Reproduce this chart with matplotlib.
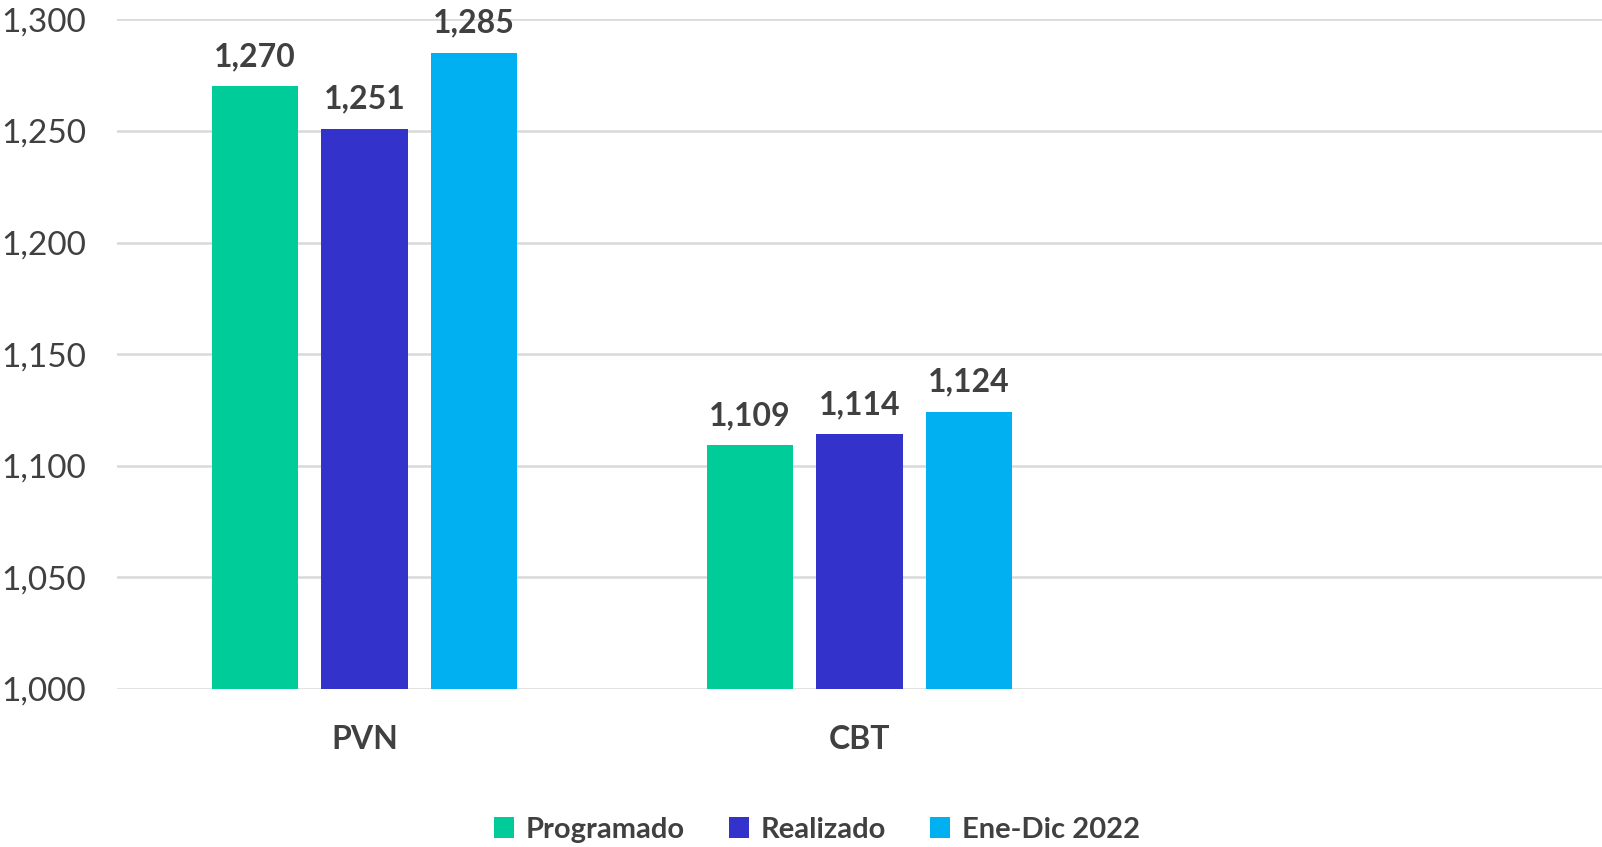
import matplotlib.pyplot as plt
from matplotlib.ticker import FuncFormatter
import numpy as np

plt.rcParams['font.family'] = ['Lato', 'DejaVu Sans']

# Data
categories = ['PVN', 'CBT', '']
series = ['Programado', 'Realizado', 'Ene-Dic 2022']
programado = [1270, 1109, np.nan]
realizado = [1251, 1114, np.nan]
ene_dic = [1285, 1124, np.nan]
colors = ['#00CC99', '#3333CC', '#00B0F0']

text_color = '#404040'

fig = plt.figure(figsize=(16.02, 8.47), dpi=100)
ax = fig.add_axes([0.073, 0.187, 0.927, 0.790])

x = np.arange(len(categories))
width = 0.174
step = 0.221
for i, (vals, name, col) in enumerate(zip([programado, realizado, ene_dic], series, colors)):
    pos = x + (i - 1) * step
    bars = ax.bar(pos, vals, width, color=col, label=name, zorder=3)
    for xp, v in zip(pos, vals):
        if not np.isnan(v):
            ax.annotate(f'{v:,.0f}', (xp, v), xytext=(0, 11), textcoords='offset points',
                        ha='center', va='bottom', fontsize=23, fontweight='bold',
                        color=text_color)

ax.set_xlim(-0.5, len(categories) - 0.5)
ax.set_ylim(1000, 1300)
ax.set_yticks(np.arange(1000, 1301, 50))
ax.yaxis.set_major_formatter(FuncFormatter(lambda v, p: f'{v:,.0f}'))
ax.set_xticks(x)
ax.set_xticklabels(categories, fontsize=23, fontweight='bold', color=text_color)
ax.tick_params(axis='x', length=0, pad=26)
ax.tick_params(axis='y', length=0, pad=22, labelsize=24, labelcolor=text_color)

ax.grid(axis='y', color='#D9D9D9', linewidth=1.8, zorder=0)
for s in ax.spines.values():
    s.set_visible(False)

leg = fig.legend(loc='lower center', bbox_to_anchor=(0.51, -0.026), ncol=3, frameon=False,
                 handlelength=0.7, handleheight=0.7, handletextpad=0.4, columnspacing=1.5,
                 prop={'size': 21, 'weight': 'bold'})
for t in leg.get_texts():
    t.set_color(text_color)

fig.savefig('out.png', dpi=100)
